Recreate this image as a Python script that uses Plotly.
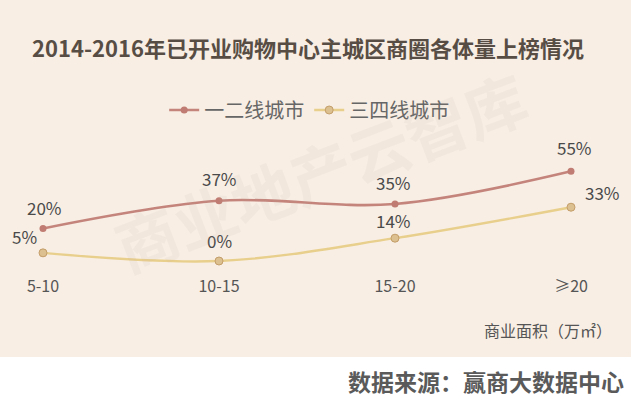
import plotly.graph_objects as go

# ---- data ----
categories = ["5-10", "10-15", "15-20", "≥20"]
series_names = ["一二线城市", "三四线城市"]
tier12 = [20, 37, 35, 55]
tier34 = [5, 0, 14, 33]

title_text = "2014-2016年已开业购物中心主城区商圈各体量上榜情况"
axis_title = "商业面积（万㎡）"
source_text = "数据来源：赢商大数据中心"
watermark = "商业地产云智库"

# ---- style ----
W, H = 631, 398
FONT = "Noto Sans CJK SC"
red_line, red_mk = "#c4847c", "#c07c72"
yel_line, yel_mk, yel_edge = "#e9cf8c", "#dcc08f", "#c49e6a"
bg = "#f8eee4"
text_col = "#4a4a4a"

# label offsets (px) per point, for each series
off12 = [(1, 21), (0, 22), (-2, 21), (3, 24)]
off34 = [(-19, 16), (0, 21), (-2, 18), (31, 15)]

xs = list(range(len(categories)))

fig = go.Figure()
fig.add_trace(go.Scatter(
    x=xs, y=tier12, name=series_names[0], mode="lines+markers",
    line=dict(color=red_line, width=2.6, shape="spline", smoothing=1.0),
    marker=dict(color=red_mk, size=7, line=dict(color=red_mk, width=0)),
    hoverinfo="skip"))
fig.add_trace(go.Scatter(
    x=xs, y=tier34, name=series_names[1], mode="lines+markers",
    line=dict(color=yel_line, width=2.4, shape="spline", smoothing=1.0),
    marker=dict(color=yel_mk, size=8, line=dict(color=yel_edge, width=1)),
    hoverinfo="skip"))

annotations = []
for vals, offs in ((tier12, off12), (tier34, off34)):
    for x, v, (dx, dy) in zip(xs, vals, offs):
        annotations.append(dict(
            x=x, y=v, xref="x", yref="y", text=f"{v}%", showarrow=False,
            xshift=dx, yshift=dy, font=dict(family=FONT, size=17, color=text_col)))

annotations += [
    dict(text=f"<b>{title_text}</b>", x=308 / W, y=1 - 47 / H, xref="paper", yref="paper",
         showarrow=False, xanchor="center", yanchor="middle",
         font=dict(family=FONT, size=22, color="#574d45")),
    dict(text=axis_title, x=614 / W, y=1 - 330 / H, xref="paper", yref="paper",
         showarrow=False, xanchor="right", yanchor="middle",
         font=dict(family=FONT, size=16, color="#555555")),
    dict(text=f"<b>{source_text}</b>", x=626 / W, y=1 - 381 / H, xref="paper", yref="paper",
         showarrow=False, xanchor="right", yanchor="middle",
         font=dict(family=FONT, size=23, color="#5a5a5a")),
    dict(text=f"<b>{watermark}</b>", x=320 / W, y=1 - 170 / H, xref="paper", yref="paper",
         showarrow=False, xanchor="center", yanchor="middle", textangle=-21,
         font=dict(family=FONT, size=62, color="rgba(190,170,150,0.09)")),
]

# pixel mapping: x px = 43 + 176*i ; y px = 261 - 1.63*v
plot_top, plot_bot = 140, 275
y_top = (261 - plot_top) / 1.63
y_bot = (261 - plot_bot) / 1.63
x_lo = (0 - 43) / 176
x_hi = (W - 43) / 176

fig.update_layout(
    width=W, height=H,
    margin=dict(l=0, r=0, t=0, b=0),
    paper_bgcolor="white", plot_bgcolor="rgba(0,0,0,0)",
    font=dict(family=FONT, color=text_col),
    showlegend=True,
    legend=dict(orientation="h", x=0.49, xanchor="center", y=1 - 110 / H, yanchor="middle",
                font=dict(family=FONT, size=20, color="#666666"),
                bgcolor="rgba(0,0,0,0)", itemwidth=30, tracegroupgap=0),
    xaxis=dict(domain=[0, 1], range=[x_lo, x_hi], tickmode="array", tickvals=xs,
               ticktext=categories, showgrid=False, zeroline=False, showline=False,
               ticks="", tickfont=dict(family=FONT, size=16, color="#555555")),
    yaxis=dict(domain=[1 - plot_bot / H, 1 - plot_top / H], range=[y_bot, y_top],
               showgrid=False, zeroline=False, showline=False, showticklabels=False),
    shapes=[dict(type="rect", xref="paper", yref="paper", x0=0, x1=1,
                 y0=1 - 357 / H, y1=1, fillcolor=bg, line=dict(width=0), layer="below")],
    annotations=annotations,
)

fig.write_html("out.html")
